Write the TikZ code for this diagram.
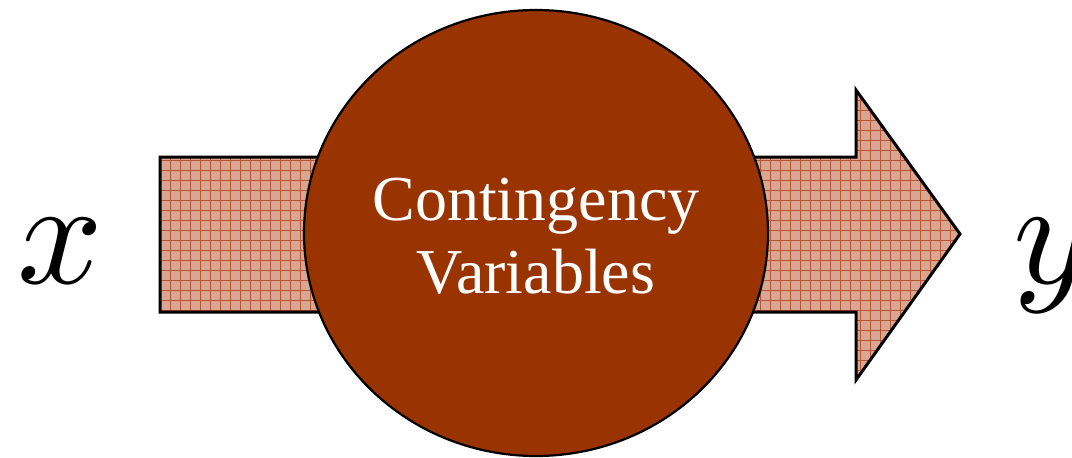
\documentclass[tikz,border=0pt]{standalone}
\usepackage{fontspec}
\setmainfont{Liberation Serif}
\usetikzlibrary{shapes.geometric}
\definecolor{rust}{HTML}{993300}
\definecolor{salmon}{RGB}{218,166,146}
\definecolor{gridc}{RGB}{178,86,52}
\begin{document}
\begin{tikzpicture}[x=1pt,y=-1pt,
  arrowbody/.style={fill=salmon},
  arrowline/.style={draw=black,line width=3pt,line join=miter},
  gridline/.style={draw=gridc,line width=0.7pt},
  bubble/.style={ellipse,draw=black,line width=2.2pt,fill=rust,inner sep=0pt,
    minimum width=464pt,minimum height=446pt},
  lbl/.style={font=\fontsize{64}{73}\selectfont,text=white,align=center},
  var/.style={inner sep=0pt,anchor=base west,scale=15}]
\useasboundingbox (0,0) rectangle (1072,458);
% arrow
\path[arrowbody] (160,157) -- (856,157) -- (856,90) -- (960,234) -- (856,380) -- (856,312) -- (160,312) -- cycle;
\begin{scope}
\clip (160,157) -- (856,157) -- (856,90) -- (960,234) -- (856,380) -- (856,312) -- (160,312) -- cycle;
\foreach \i in {0,...,82} {\path[gridline] (150+10*\i,80) -- (150+10*\i,390);}
\foreach \j in {0,...,31} {\path[gridline] (150,80+10*\j) -- (970,80+10*\j);}
\end{scope}
\path[arrowline] (160,157) -- (856,157) -- (856,90) -- (960,234) -- (856,380) -- (856,312) -- (160,312) -- cycle;
% circle
\node[bubble] (cv) at (536,233) {};
\node[lbl] (t) at (536,236) {Contingency\\Variables};
\node[var] (x) at (14,283) {$x$};
\node[var] (y) at (1010,283) {$y$};
\end{tikzpicture}
\end{document}
